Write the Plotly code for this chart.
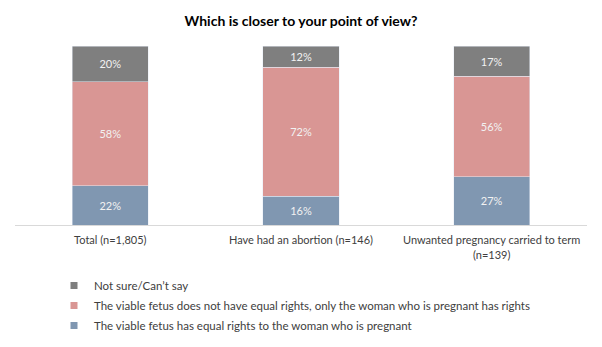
import plotly.graph_objects as go

categories = ["Total (n=1,805)", "Have had an abortion (n=146)",
              "Unwanted pregnancy carried to term<br>(n=139)"]
equal_rights = [22, 16, 27]
not_equal = [58, 72, 56]
not_sure = [20, 12, 17]

series = [
    ("The viable fetus has equal rights to the woman who is pregnant", equal_rights, "#8097b1"),
    ("The viable fetus does not have equal rights, only the woman who is pregnant has rights", not_equal, "#d99694"),
    ("Not sure/Can\u2019t say", not_sure, "#7f7f7f"),
]

FONT = "Lato"
fig = go.Figure()
for i, (name, vals, col) in enumerate(series):
    fig.add_trace(go.Bar(
        x=categories, y=vals, name=name, marker_color=col,
        text=[f"{v}%" for v in vals], textposition="inside",
        insidetextanchor="middle", textangle=0,
        textfont=dict(family=FONT, size=11, color="#f2f2f2"),
        showlegend=False, width=0.4,
    ))
    # legend proxy with small square marker
    fig.add_trace(go.Scatter(
        x=[None], y=[None], mode="markers", name=name,
        marker=dict(symbol="square", size=7, color=col),
        legendgroup=f"g{i}", legendrank=10 - i, showlegend=True,
    ))

PLOT_L, PLOT_W, PLOT_T, PLOT_H = 15, 572, 46, 179
fig.update_layout(
    barmode="stack",
    width=602, height=347,
    margin=dict(l=PLOT_L, r=15, t=PLOT_T, b=122, autoexpand=False),
    paper_bgcolor="white", plot_bgcolor="white",
    title=dict(text="<b>Which is closer to your point of view?</b>",
               x=0.5, xanchor="center", y=0.94, yanchor="middle",
               font=dict(family=FONT, size=14, color="#000000")),
    xaxis=dict(showline=True, linecolor="#d9d9d9", linewidth=1,
               ticks="", ticklabelstandoff=5,
               tickfont=dict(family=FONT, size=11, color="#404040")),
    yaxis=dict(visible=False, range=[0, 100]),
    legend=dict(orientation="v", x=(54 - PLOT_L) / PLOT_W, xanchor="left",
                y=-(271 - PLOT_T - PLOT_H) / PLOT_H, yanchor="top",
                traceorder="grouped", tracegroupgap=1,
                font=dict(family=FONT, size=11.5, color="#404040"),
                itemwidth=30),
    uniformtext=dict(minsize=8, mode="show"),
)

fig.write_html("out.html")
